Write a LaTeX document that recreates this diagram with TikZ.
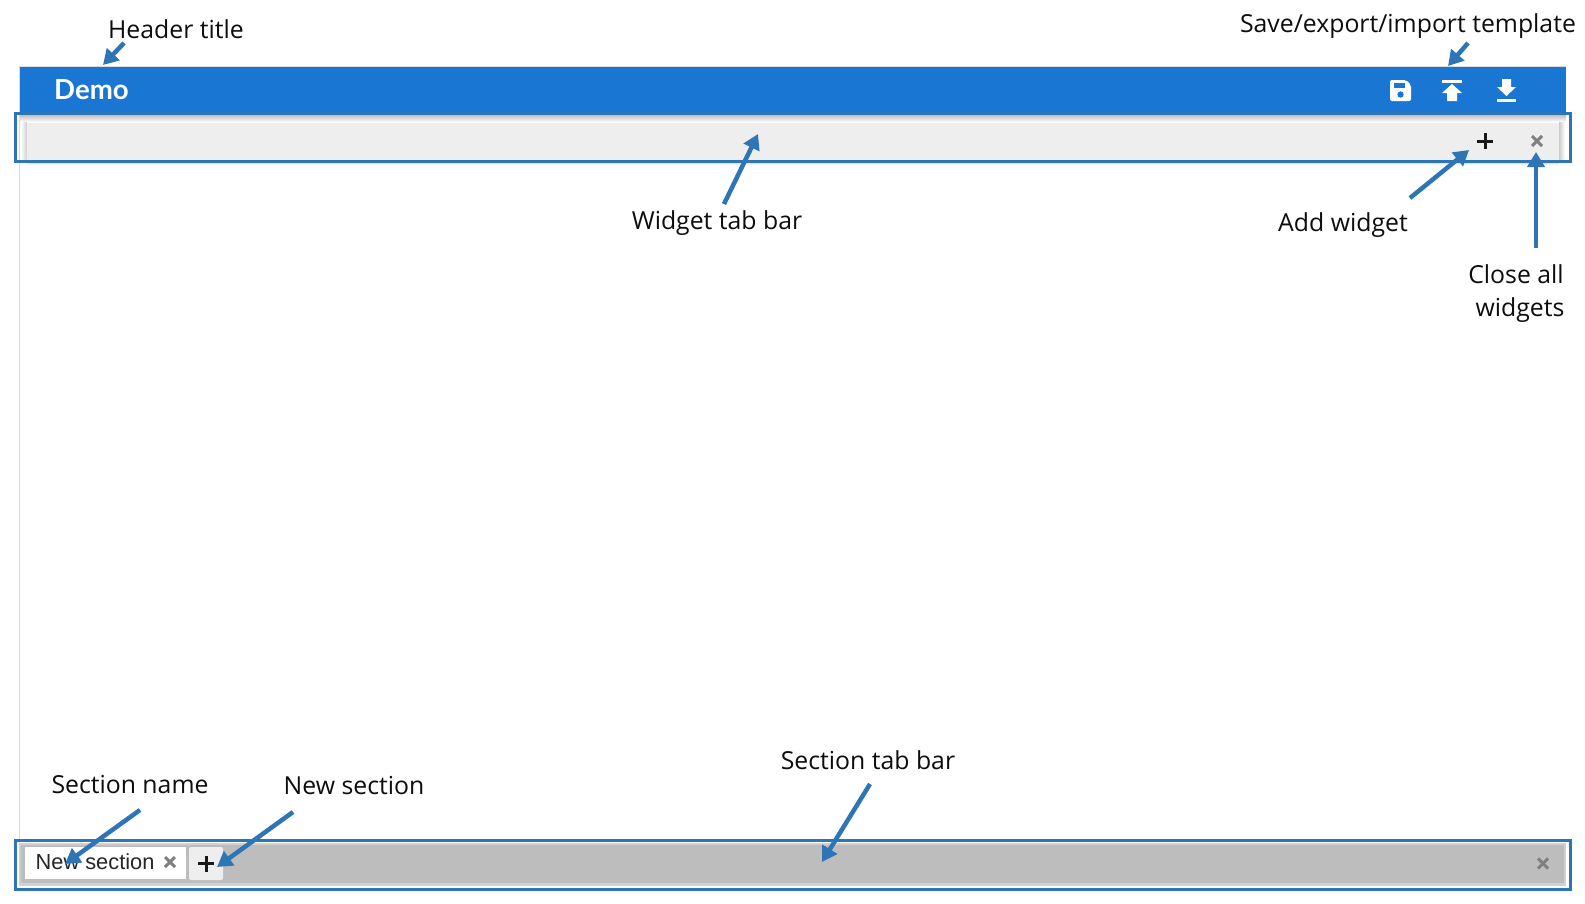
\documentclass[tikz,border=0pt]{standalone}
\usepackage{fontspec}
\setmainfont{Open Sans}
\newfontfamily\demofont{Lato}
\newfontfamily\tabfont{Liberation Sans}
\usetikzlibrary{arrows.meta}
\definecolor{headblue}{HTML}{1976D2}
\definecolor{markblue}{HTML}{2E75B6}
\definecolor{barlight}{HTML}{EEEEEE}
\definecolor{bardark}{HTML}{BDBDBD}
\definecolor{closegray}{HTML}{808080}
\tikzset{
  note/.style={font=\fontsize{24.8}{28}\selectfont, text=black!95, inner sep=0pt},
  pointer/.style={draw=markblue, line width=4.5pt, -{Triangle[length=15pt,width=17pt]}},
  outline/.style={draw=markblue, line width=2.6pt},
  plusmark/.style={draw=black!90, line width=3pt},
  closemark/.style={draw=closegray, line width=3pt}
}
\begin{document}
\begin{tikzpicture}[x=1pt, y=-1pt]
  \useasboundingbox[fill=white] (0,0) rectangle (1585,903);

  % page frame
  \draw[black!15, line width=1pt] (20,66) -- (1566,66);
  \draw[black!15, line width=1pt] (19.5,66) -- (19.5,842);

  % header
  \fill[headblue] (20,67) rectangle (1566,112);
  \node[anchor=base west, inner sep=0pt, text=white, font=\demofont\bfseries\fontsize{27.6}{30}\selectfont] (demotitle) at (54,99.5) {Demo};

  % save icon
  \fill[white, rounded corners=2pt] (1390,80) -- (1406,80) -- (1411,85) -- (1411,101) -- (1390,101) -- cycle;
  \fill[headblue] (1394,83) rectangle (1405,88);
  \fill[headblue] (1400.5,94.5) circle (3.2pt);

  % export icon
  \fill[white] (1442,80) rectangle (1462,82.5);
  \fill[white] (1452,84) -- (1462,93) -- (1457,93) -- (1457,101) -- (1447,101) -- (1447,93) -- (1442,93) -- cycle;

  % import icon
  \fill[white] (1497,99) rectangle (1516,101.5);
  \fill[white] (1502,79) -- (1511,79) -- (1511,87) -- (1516,87) -- (1506.5,96) -- (1497,87) -- (1502,87) -- cycle;

  % widget tab bar
  \shade[top color=black!35, bottom color=white] (20,112) rectangle (1566,122);
  \shade[left color=white, right color=black!20] (21,122) rectangle (27,160);
  \shade[left color=black!20, right color=white] (1559,122) rectangle (1565,160);
  \shade[top color=black!25, bottom color=white] (27,160) rectangle (1559,165);
  \fill[barlight] (27,122.5) rectangle (1559,160);
  \draw[plusmark] (1477,141) -- (1493,141);
  \draw[plusmark] (1485,133) -- (1485,149);
  \draw[closemark] (1532,136) -- (1542,146);
  \draw[closemark] (1542,136) -- (1532,146);
  \draw[outline] (15.5,113.5) rectangle (1570.5,161.5);

  % section tab bar
  \fill[black!18] (19,843) rectangle (1566,886);
  \fill[bardark] (21,845) rectangle (1564,883);
  \fill[white] (25,847) rectangle (186,879);
  \fill[barlight, rounded corners=2pt] (189,847) rectangle (223,880);
  \node[anchor=base west, inner sep=0pt, text=black!85, font=\tabfont\fontsize{21.8}{25}\selectfont] (sectiontab) at (35.5,869) {New section};
  \draw[closemark] (165,857) -- (175,867);
  \draw[closemark] (175,857) -- (165,867);
  \draw[plusmark] (198,863.5) -- (214,863.5);
  \draw[plusmark] (206,855.5) -- (206,871.5);
  \draw[closemark] (1538,858.5) -- (1548,868.5);
  \draw[closemark] (1548,858.5) -- (1538,868.5);
  \draw[outline] (15.5,840.5) rectangle (1570.5,889.5);

  % labels
  \node[note] (headerlbl) at (176,29.5) {Header title};
  \node[note] (savelbl) at (1408,26.5) {Save/export/import template};
  \node[note] (widgetlbl) at (717,223.5) {Widget tab bar};
  \node[note] (addlbl) at (1343,225.5) {Add widget};
  \node[note] (closelbl) at (1516,274) {Close all};
  \node[note] (closelblb) at (1520,310) {widgets};
  \node[note] (sectionlbl) at (868,760.5) {Section tab bar};
  \node[note] (newlbl) at (354,786) {New section};
  \node[note] (namelbl) at (130,785) {Section name};

  % arrow ends
  \coordinate (headerfrom) at (124,43);
  \coordinate (headerto) at (103,65);
  \coordinate (savefrom) at (1468,43);
  \coordinate (saveto) at (1448,66);
  \coordinate (widgetfrom) at (724,204);
  \coordinate (widgetto) at (758,134);
  \coordinate (addfrom) at (1410,198);
  \coordinate (addto) at (1469,150);
  \coordinate (closefrom) at (1536,248);
  \coordinate (closeto) at (1536,152);
  \coordinate (sectionfrom) at (870,784);
  \coordinate (sectionto) at (822,862);
  \coordinate (newfrom) at (293,812);
  \coordinate (newto) at (217,867);
  \coordinate (namefrom) at (140,810);
  \coordinate (nameto) at (65,864);

  \draw[pointer] (headerfrom) -- (headerto);
  \draw[pointer] (savefrom) -- (saveto);
  \draw[pointer] (widgetfrom) -- (widgetto);
  \draw[pointer] (addfrom) -- (addto);
  \draw[pointer] (closefrom) -- (closeto);
  \draw[pointer] (sectionfrom) -- (sectionto);
  \draw[pointer] (newfrom) -- (newto);
  \draw[pointer] (namefrom) -- (nameto);
\end{tikzpicture}
\end{document}
